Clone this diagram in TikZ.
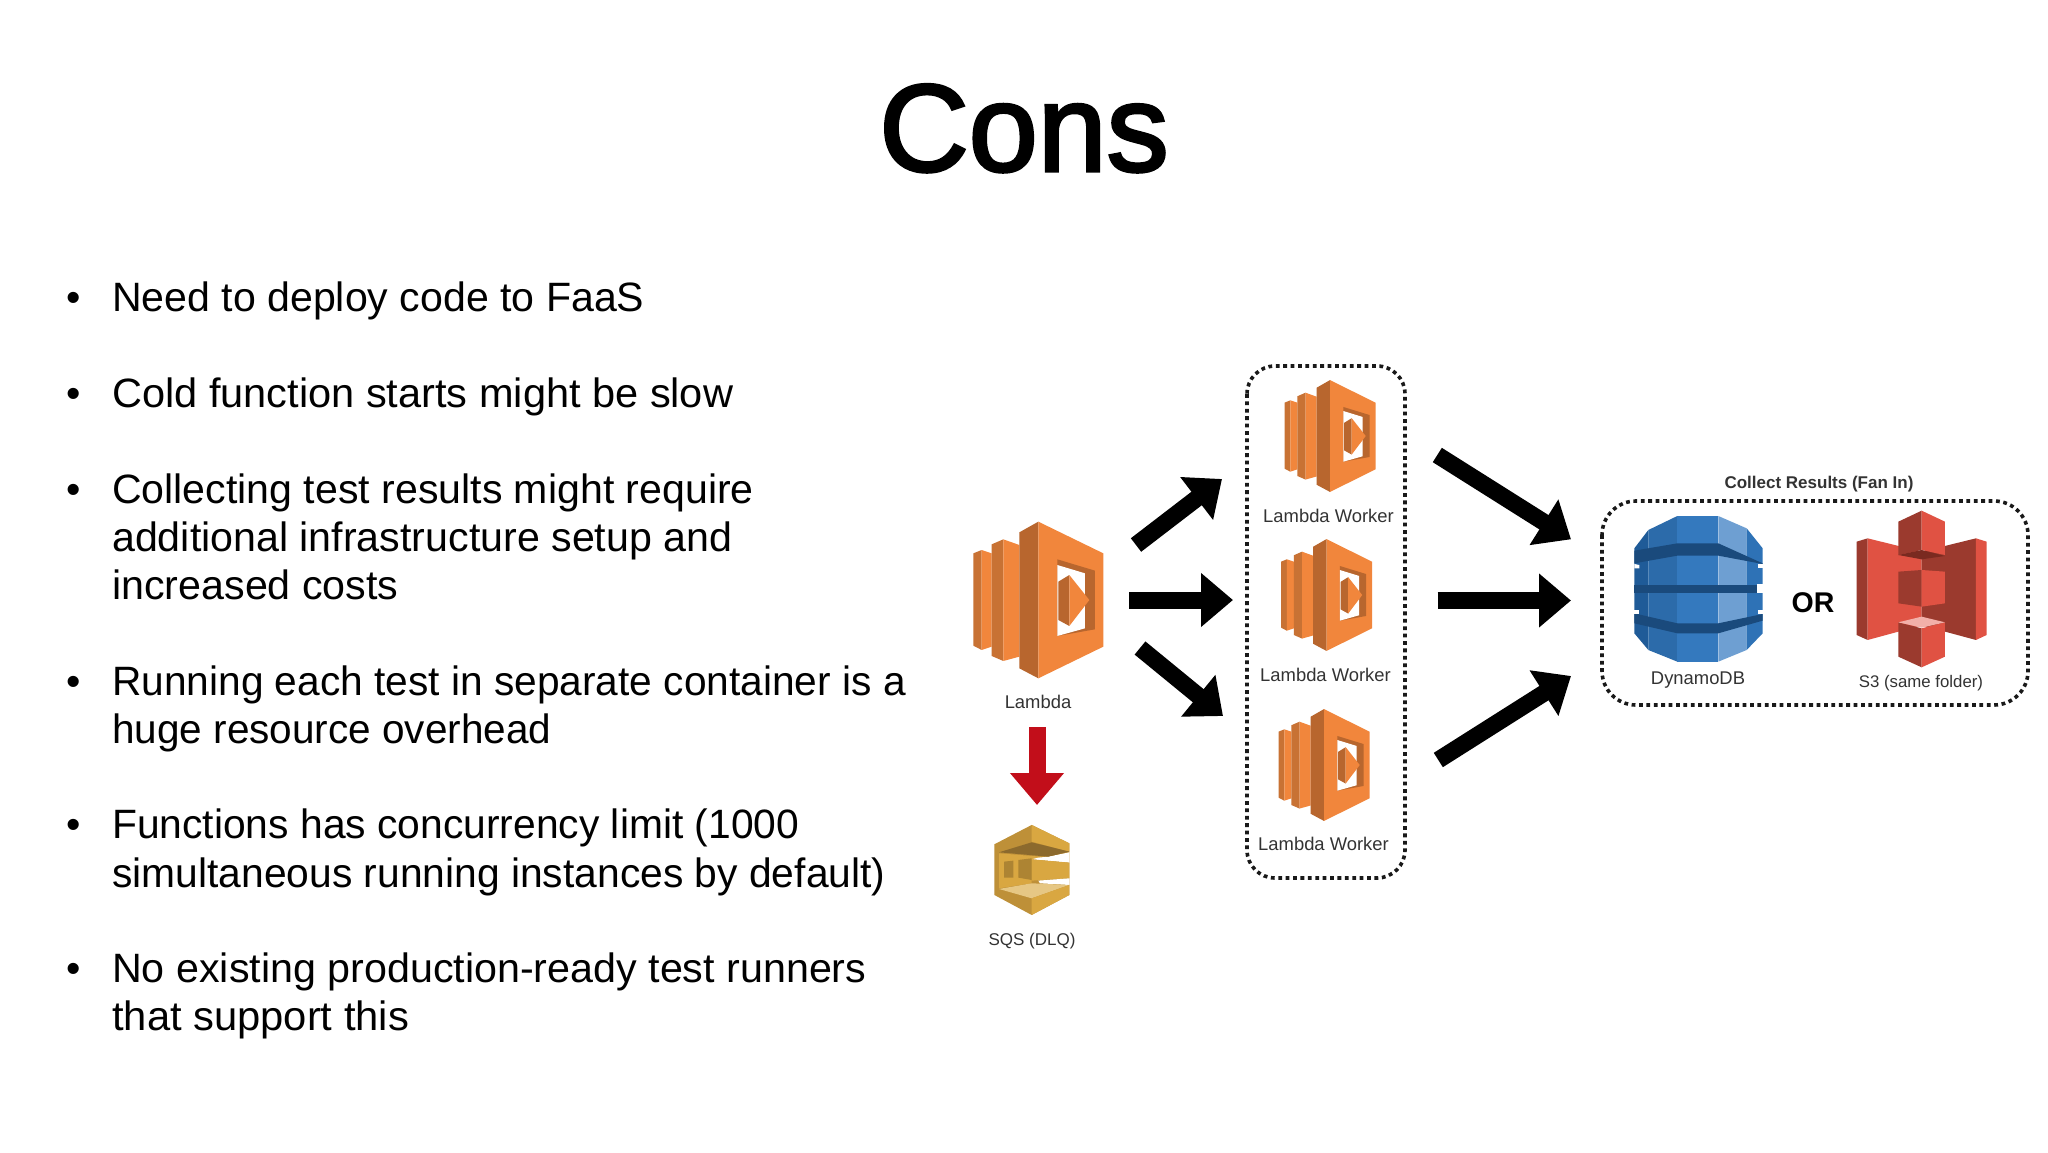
\documentclass[tikz,border=0pt]{standalone}
\usepackage{graphicx}
\usepackage{fontspec}
\setmainfont{Liberation Sans}
\newfontfamily\titlefont[FakeBold=2.5]{Liberation Sans}
\usetikzlibrary{arrows.meta}
\definecolor{lamL}{HTML}{F1863C}
\definecolor{lamD}{HTML}{B8662E}
\definecolor{lamM}{HTML}{C87234}
\definecolor{dbA}{HTML}{1F5B98}
\definecolor{dbB}{HTML}{2C6BAA}
\definecolor{dbC}{HTML}{3479BE}
\definecolor{dbD}{HTML}{6E9FD2}
\definecolor{dbE}{HTML}{2E72B6}
\definecolor{dbBand}{HTML}{1A4A7C}
\definecolor{sL}{HTML}{E05243}
\definecolor{sD}{HTML}{9B3A2E}
\definecolor{sDD}{HTML}{7A2A20}
\definecolor{sP}{HTML}{F2B0A9}
\definecolor{qL}{HTML}{D9A741}
\definecolor{qM}{HTML}{BE9038}
\definecolor{qS}{HTML}{AD8433}
\definecolor{qD}{HTML}{8C6A2D}
\definecolor{qP}{HTML}{E6C784}
\definecolor{txt}{HTML}{333333}
\definecolor{redA}{HTML}{C20E1A}
\newcommand{\hs}[2]{\scalebox{#1}[1]{#2}}
\tikzset{
  bul/.style={anchor=base west,inner sep=0pt,font=\fontsize{41}{41}\selectfont,text=black},
  lab/.style={inner sep=0pt,font=\fontsize{18.4}{18.4}\selectfont,text=txt},
  blab/.style={inner sep=0pt,font=\fontsize{17}{17}\selectfont\bfseries,text=txt},
  dotbox/.style={draw=black!90,line width=3.6pt,dash pattern=on 3.8pt off 3.6pt},
  bigarrow/.style={draw=black,line width=17pt,-{Triangle[length=32pt,width=52pt]}},
  redarrow/.style={draw=redA,line width=17pt,-{Triangle[length=32pt,width=52pt]}},
  icon/.style={x=.3333pt,y=-.3333pt},
  wicon/.style={x=.2333pt,y=-.238pt},
}
\newcommand{\lambdaicon}{%
  \fill[lamM] (70,160)--(95,150)--(95,450)--(70,437)--cycle;
  \fill[lamL] (95,150)--(125,160)--(125,440)--(95,450)--cycle;
  \fill[lamM] (125,133)--(160,118)--(160,483)--(125,468)--cycle;
  \fill[lamL] (160,118)--(208,135)--(208,470)--(160,483)--cycle;
  \fill[lamD] (208,97)--(265,65)--(265,535)--(208,505)--cycle;
  \fill[lamL] (265,65)--(460,160)--(460,440)--(265,535)--cycle;
  \fill[lamD] (322,178)--(435,212)--(435,388)--(322,408)--cycle;
  \fill[white] (322,195)--(405,220)--(405,385)--(322,408)--cycle;
  \fill[lamD] (325,245)--(358,225)--(358,378)--(325,360)--cycle;
  \fill[lamL] (358,225)--(418,300)--(358,378)--cycle;
}
\newcommand{\sqsicon}{%
  \fill[qM] (133,1033)--(245,975)--(358,1030)--(358,1185)--(245,1245)--(133,1185)--cycle;
  \fill[qL] (245,975)--(358,1030)--(358,1055)--(245,1025)--cycle;
  \fill[qL] (147,1060)--(295,1072)--(245,1078)--(245,1150)--(147,1165)--cycle;
  \fill[white] (265,1073)--(295,1070)--(358,1057)--(358,1088)--(245,1078)--cycle;
  \fill[qD] (147,1057)--(245,1027)--(358,1055)--(295,1070)--cycle;
  \fill[qL] (245,1078)--(358,1088)--(358,1135)--(245,1142)--cycle;
  \fill[white] (265,1142)--(358,1135)--(358,1155)--(270,1150)--cycle;
  \fill[qS] (162,1085)--(190,1082)--(190,1133)--(162,1133)--cycle;
  \fill[qS] (205,1080)--(245,1075)--(245,1140)--(205,1133)--cycle;
  \fill[qP] (147,1167)--(245,1150)--(358,1155)--(245,1195)--cycle;
  \fill[qL] (245,1195)--(358,1155)--(358,1185)--(245,1245)--cycle;
}
\newcommand{\dynamoicon}{%
  \fill[dbA] (133,265)--(175,210)--(175,570)--(133,520)--cycle;
  \fill[dbB] (175,210)--(262,168)--(262,605)--(175,570)--cycle;
  \fill[dbC] (262,168)--(385,168)--(385,605)--(262,605)--cycle;
  \fill[dbD] (385,168)--(470,205)--(470,570)--(385,605)--cycle;
  \fill[dbE] (470,205)--(518,265)--(518,520)--(470,570)--cycle;
  \fill[dbBand] (133,272)--(262,250)--(385,250)--(518,310)--(518,312)--(385,287)--(262,287)--(133,310)--cycle;
  \fill[dbBand] (133,375)--(500,375)--(500,400)--(133,400)--cycle;
  \fill[dbBand] (133,460)--(262,490)--(385,490)--(518,462)--(518,482)--(385,520)--(262,520)--(133,490)--cycle;
  \fill[white] (133,312)--(148,315)--(148,325)--(133,325)--cycle;
  \fill[white] (505,312)--(518,312)--(518,325)--(505,325)--cycle;
  \fill[white] (133,450)--(148,450)--(148,462)--(133,462)--cycle;
  \fill[white] (505,450)--(518,450)--(518,462)--(505,462)--cycle;
  \fill[white] (500,372)--(518,372)--(518,400)--(500,400)--cycle;
}
\newcommand{\sthreeicon}{%
  \fill[sD] (800,245)--(833,235)--(833,540)--(800,525)--cycle;
  \fill[sL] (833,235)--(995,275)--(995,496)--(833,540)--cycle;
  \fill[sD] (995,275)--(1158,235)--(1158,540)--(995,496)--cycle;
  \fill[sL] (1158,235)--(1190,245)--(1190,525)--(1158,540)--cycle;
  \fill[sD] (925,335)--(995,330)--(995,440)--(925,430)--cycle;
  \fill[sL] (995,330)--(1065,335)--(1065,430)--(995,440)--cycle;
  \fill[sD] (925,185)--(995,152)--(995,270)--(925,285)--cycle;
  \fill[sL] (995,152)--(1065,185)--(1065,285)--(995,270)--cycle;
  \fill[sDD] (925,285)--(995,270)--(1065,288)--(995,298)--cycle;
  \fill[sD] (925,487)--(995,505)--(995,622)--(925,590)--cycle;
  \fill[sL] (995,505)--(1065,487)--(1065,590)--(995,622)--cycle;
  \fill[sP] (925,487)--(995,470)--(1065,487)--(995,503)--cycle;
}
\begin{document}
\begin{tikzpicture}[x=1pt,y=-1pt]
\useasboundingbox[fill=white] (0,0) rectangle (2048,1152);
% title
\node[anchor=base,inner sep=0pt,font=\fontsize{124}{124}\selectfont\titlefont] (title) at (1024,171) {Cons};
% bullets
\foreach \n/\y in {a/311,b/407.5,c/503,d/695,e/838.5,f/982}
  \node[bul] (dot\n) at (66,\y) {•};
\node[bul] (t1) at (112,311) {\hs{1.002}{Need to deploy code to FaaS}};
\node[bul] (t2) at (112,407.5) {\hs{1.013}{Cold function starts might be slow}};
\node[bul] (t3) at (112,503) {\hs{1.002}{Collecting test results might require}};
\node[bul] (t3b) at (112,551) {\hs{1.004}{additional infrastructure setup and}};
\node[bul] (t3c) at (112,599.5) {\hs{1.005}{increased costs}};
\node[bul] (t4) at (112,695) {\hs{.992}{Running each test in separate container is a}};
\node[bul] (t4b) at (112,743) {\hs{.988}{huge resource overhead}};
\node[bul] (t5) at (112,838.5) {\hs{.995}{Functions has concurrency limit (1000}};
\node[bul] (t5b) at (112,887) {\hs{.995}{simultaneous running instances by default)}};
\node[bul] (t6) at (112,982) {\hs{1.006}{No existing production-ready test runners}};
\node[bul] (t6b) at (112,1030.5) {\hs{1.018}{that support this}};
% boxes
\draw[dotbox,rounded corners=28pt] (1247,366) rectangle (1405,878);
\draw[dotbox,rounded corners=34pt] (1602,501) rectangle (2028,705);
% icons
\begin{scope}[shift={(950,500)},icon]
  \lambdaicon
  \sqsicon
\end{scope}
\begin{scope}[shift={(1330,436)},wicon]
  \begin{scope}[shift={(-265,-300)}]\lambdaicon\end{scope}
\end{scope}
\begin{scope}[shift={(1326.5,595)},wicon]
  \begin{scope}[shift={(-265,-300)}]\lambdaicon\end{scope}
\end{scope}
\begin{scope}[shift={(1324,765)},wicon]
  \begin{scope}[shift={(-265,-300)}]\lambdaicon\end{scope}
\end{scope}
\begin{scope}[shift={(1590,460)},icon]
  \dynamoicon
  \sthreeicon
\end{scope}
% labels
\node[lab] (lambda) at (1038,702) {Lambda};
\node[lab,font=\fontsize{17}{17}\selectfont] (sqs) at (1032,941) {SQS (DLQ)};
\node[lab] (w1) at (1328.5,516) {Lambda Worker};
\node[lab] (w2) at (1325.5,675) {Lambda Worker};
\node[lab] (w3) at (1323.5,844) {Lambda Worker};
\node[blab] (collect) at (1819,484) {Collect Results (Fan In)};
\node[inner sep=0pt,font=\fontsize{28.5}{28.5}\selectfont\bfseries] (or) at (1813,603) {OR};
\node[lab] (dynamo) at (1698,680.5) {DynamoDB};
\node[lab,font=\fontsize{16.8}{16.8}\selectfont] (s3) at (1921,683) {S3 (same folder)};
% connector ends
\coordinate (a1s) at (1136,545); \coordinate (a1e) at (1222,479);
\coordinate (a2s) at (1129,600); \coordinate (a2e) at (1233,600);
\coordinate (a3s) at (1140,648); \coordinate (a3e) at (1223,716);
\coordinate (r1s) at (1037,727); \coordinate (r1e) at (1037,805);
\coordinate (b1s) at (1437.3,455); \coordinate (b1e) at (1571,539.3);
\coordinate (b2s) at (1437.7,600.5); \coordinate (b2e) at (1571,600.5);
\coordinate (b3s) at (1438.3,760); \coordinate (b3e) at (1571,676);
\draw[bigarrow] (a1s) -- (a1e);
\draw[bigarrow] (a2s) -- (a2e);
\draw[bigarrow] (a3s) -- (a3e);
\draw[redarrow] (r1s) -- (r1e);
\draw[bigarrow] (b1s) -- (b1e);
\draw[bigarrow] (b2s) -- (b2e);
\draw[bigarrow] (b3s) -- (b3e);
\end{tikzpicture}
\end{document}
